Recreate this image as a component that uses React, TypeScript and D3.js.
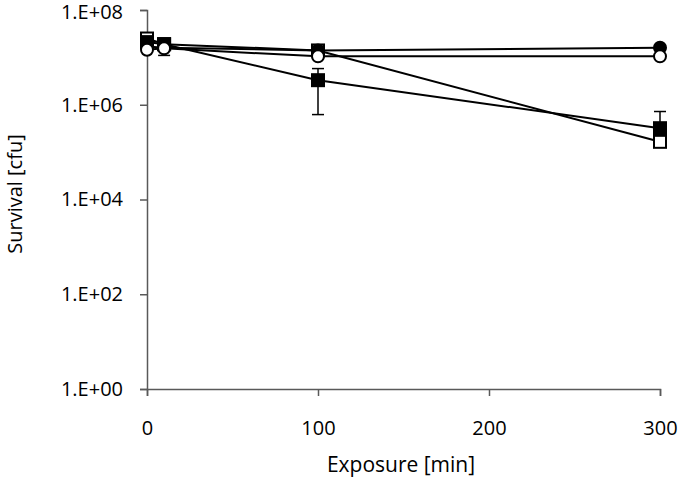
import * as d3 from 'd3';
import React, { useEffect, useRef } from 'react';

const minutes = [0, 10, 100, 300];

// survival (cfu) per series
const filledCircle = [1.7e7, 1.6e7, 1.4e7, 1.6e7];
const openCircle = [1.45e7, 1.55e7, 1.05e7, 1.05e7];
const filledSquare = [2.1e7, 1.9e7, 3.3e6, 3.2e5];
const openSquare = [2.5e7, 1.9e7, 1.4e7, 1.65e5];

// error bars [low, high] (null where none visible)
const filledSquareErr = [null, null, [6.2e5, 5.8e6], [3.2e5, 7.2e5]];
const openCircleErr = [null, [1.1e7, 1.55e7], null, null];

const xTicks = [0, 100, 200, 300];
const yTicks = [1, 1e2, 1e4, 1e6, 1e8];
const yTickLabels = ['1.E+00', '1.E+02', '1.E+04', '1.E+06', '1.E+08'];

const series = [
  { name: 'openSquare', values: openSquare, shape: 'square', fill: '#fff', err: null },
  { name: 'filledSquare', values: filledSquare, shape: 'square', fill: '#000', err: filledSquareErr },
  { name: 'filledCircle', values: filledCircle, shape: 'circle', fill: '#000', err: null },
  { name: 'openCircle', values: openCircle, shape: 'circle', fill: '#fff', err: openCircleErr },
];

export default function App() {
  const ref = useRef(null);

  useEffect(() => {
    const width = 680;
    const height = 478;
    const margin = { top: 10, right: 20, bottom: 89, left: 147 };

    const svg = d3.select(ref.current).attr('width', width).attr('height', height);
    svg.selectAll('*').remove();

    const x = d3.scaleLinear().domain([0, 300]).range([margin.left, width - margin.right]);
    const y = d3.scaleLog().domain([1, 1e8]).range([height - margin.bottom, margin.top]);

    const font = 'Open Sans, sans-serif';
    const axisColor = '#595959';

    // axes
    const xAxis = svg
      .append('g')
      .attr('transform', `translate(0,${y(1)})`)
      .call(d3.axisBottom(x).tickValues(xTicks).tickSize(7).tickFormat(d3.format('d')));
    xAxis.select('.domain').attr('stroke', axisColor).attr('stroke-width', 1.5);
    xAxis.selectAll('line').attr('stroke', axisColor).attr('stroke-width', 1.5);
    xAxis
      .selectAll('text')
      .attr('y', 32)
      .attr('dy', '0.71em')
      .attr('font-family', font)
      .attr('font-size', 20)
      .attr('fill', '#000');

    const yAxis = svg
      .append('g')
      .attr('transform', `translate(${x(0)},0)`)
      .call(
        d3
          .axisLeft(y)
          .tickValues(yTicks)
          .tickSize(7)
          .tickPadding(17)
          .tickFormat((d, i) => yTickLabels[i])
      );
    yAxis.select('.domain').attr('stroke', axisColor).attr('stroke-width', 1.5);
    yAxis.selectAll('line').attr('stroke', axisColor).attr('stroke-width', 1.5);
    yAxis
      .selectAll('text')
      .attr('font-family', font)
      .attr('font-size', 20)
      .attr('fill', '#000')
      .attr('dy', (d) => (d === 1e8 ? '0.42em' : '0.32em'));

    svg
      .append('text')
      .attr('x', 401)
      .attr('y', 466)
      .attr('text-anchor', 'middle')
      .attr('dominant-baseline', 'middle')
      .attr('font-family', font)
      .attr('font-size', 21)
      .text('Exposure [min]');

    svg
      .append('text')
      .attr('transform', `translate(17,194) rotate(-90)`)
      .attr('text-anchor', 'middle')
      .attr('dominant-baseline', 'middle')
      .attr('font-family', font)
      .attr('font-size', 20)
      .text('Survival [cfu]');

    const line = d3
      .line()
      .x((d, i) => x(minutes[i]))
      .y((d) => y(d));

    // lines first
    series.forEach((s) => {
      svg
        .append('path')
        .attr('d', line(s.values))
        .attr('fill', 'none')
        .attr('stroke', '#000')
        .attr('stroke-width', 2);
    });

    // error bars
    series.forEach((s) => {
      if (!s.err) return;
      s.err.forEach((e, i) => {
        if (!e) return;
        const cx = x(minutes[i]);
        const g = svg.append('g').attr('stroke', '#000').attr('stroke-width', 1.5);
        g.append('line').attr('x1', cx).attr('x2', cx).attr('y1', y(e[0])).attr('y2', y(e[1]));
        g.append('line').attr('x1', cx - 6).attr('x2', cx + 6).attr('y1', y(e[0])).attr('y2', y(e[0]));
        g.append('line').attr('x1', cx - 6).attr('x2', cx + 6).attr('y1', y(e[1])).attr('y2', y(e[1]));
      });
    });

    // markers
    series.forEach((s) => {
      s.values.forEach((v, i) => {
        const cx = x(minutes[i]);
        const cy = y(v);
        if (s.shape === 'square') {
          svg
            .append('rect')
            .attr('x', cx - 6)
            .attr('y', cy - 6)
            .attr('width', 12)
            .attr('height', 12)
            .attr('fill', s.fill)
            .attr('stroke', '#000')
            .attr('stroke-width', 2);
        } else {
          svg
            .append('circle')
            .attr('cx', cx)
            .attr('cy', cy)
            .attr('r', 6)
            .attr('fill', s.fill)
            .attr('stroke', '#000')
            .attr('stroke-width', 2);
        }
      });
    });
  }, []);

  return (
    <div style={{ position: 'absolute', left: 0, top: 0 }}>
      <svg ref={ref}></svg>
    </div>
  );
}
